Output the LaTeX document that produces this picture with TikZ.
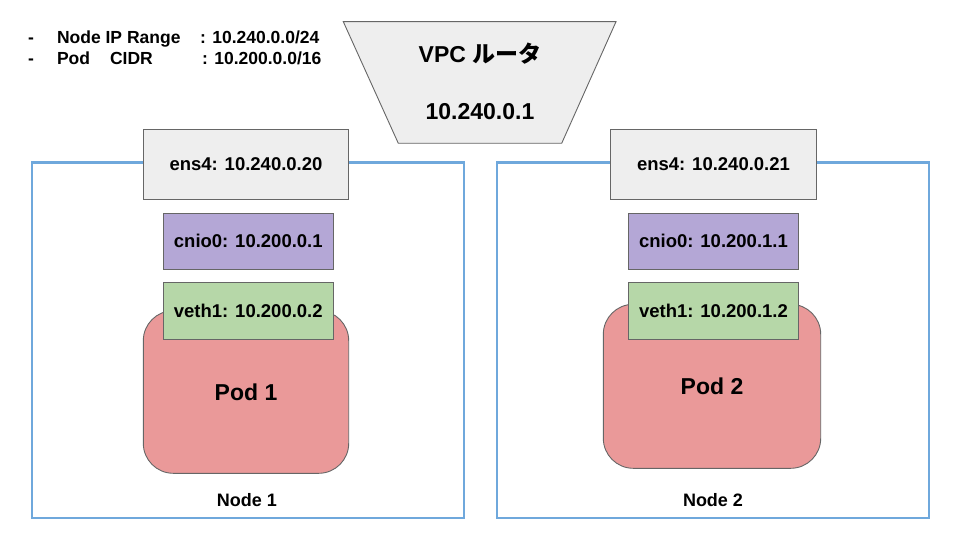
\documentclass[tikz,border=0pt]{standalone}
\usepackage{fontspec}
\setmainfont{Liberation Sans}
\newfontfamily\jpfont{Noto Sans CJK JP}
\definecolor{nodeblue}{HTML}{6FA8DC}
\definecolor{edgegray}{HTML}{666666}
\definecolor{ifgray}{HTML}{EEEEEE}
\definecolor{cnipurple}{HTML}{B4A7D6}
\definecolor{vethgreen}{HTML}{B6D7A8}
\definecolor{podred}{HTML}{EA9999}
\begin{document}
\begin{tikzpicture}[x=1pt,y=-1pt,
  every node/.style={inner sep=0pt, outer sep=0pt},
  hostbox/.style={draw=nodeblue, line width=2.8pt, rectangle, minimum width=432pt, minimum height=355.3pt},
  ifbox/.style={draw=edgegray, line width=0.9pt, fill=ifgray, rectangle, font=\fontsize{18.5}{22}\bfseries},
  cnibox/.style={draw=edgegray, line width=0.9pt, fill=cnipurple, rectangle, minimum width=170pt, minimum height=56pt, font=\fontsize{18.5}{22}\bfseries},
  vethbox/.style={draw=edgegray, line width=0.9pt, fill=vethgreen, rectangle, minimum width=170pt, minimum height=57pt, font=\fontsize{18.5}{22}\bfseries},
  podbox/.style={draw=edgegray, line width=0.9pt, fill=podred, rectangle, rounded corners=30pt, font=\fontsize{23}{27}\bfseries},
  hostlabel/.style={font=\fontsize{18}{21}\bfseries},
  legend/.style={anchor=base west, font=\fontsize{17.5}{21}\bfseries},
  vpctext/.style={font=\fontsize{23}{27}\bfseries}
]
\useasboundingbox (0,0) rectangle (960,540);

% legend
\node[legend] (d1) at (28,43.5) {-};
\node[legend] (l1) at (57,43.5) {Node IP Range};
\node[legend] (v1) at (200,43.5) {: 10.240.0.0/24};
\node[legend] (d2) at (28,65) {-};
\node[legend] (l2a) at (57,65) {Pod};
\node[legend] (l2b) at (110,65) {CIDR};
\node[legend] (v2) at (202,65) {: 10.200.0.0/16};

% VPC router
\coordinate (vtl) at (343.3,21.7);
\coordinate (vtr) at (616,21.7);
\coordinate (vbr) at (561.7,143.3);
\coordinate (vbl) at (398.3,143.3);
\draw[draw=edgegray, line width=0.9pt, fill=ifgray] (vtl) -- (vtr) -- (vbr) -- (vbl) -- cycle;
\node[vpctext] (vpcname) at (480,54) {VPC {\jpfont\bfseries ルータ}};
\node[vpctext] (vpcip) at (480,112) {10.240.0.1};

% Node 1
\node[hostbox] (host1) at (248,340.3) {};
\node[hostlabel] (host1lbl) at (247,500) {Node 1};
\node[ifbox, minimum width=205.4pt, minimum height=70pt] (ens1) at (246,164.3) {ens4: 10.240.0.20};
\node[cnibox] (cni1) at (248.3,241.3) {cnio0: 10.200.0.1};
\node[podbox, minimum width=205.4pt, minimum height=162.6pt] (pod1) at (246,392) {Pod 1};
\node[vethbox] (veth1a) at (248.3,310.8) {veth1: 10.200.0.2};

% Node 2
\node[hostbox] (host2) at (713,340.3) {};
\node[hostlabel] (host2lbl) at (713,500) {Node 2};
\node[ifbox, minimum width=206.4pt, minimum height=70pt] (ens2) at (713.5,164.3) {ens4: 10.240.0.21};
\node[cnibox] (cni2) at (713.5,241.3) {cnio0: 10.200.1.1};
\node[podbox, minimum width=217.4pt, minimum height=164pt] (pod2) at (712,386.3) {Pod 2};
\node[vethbox] (veth1b) at (713.5,310.8) {veth1: 10.200.1.2};
\end{tikzpicture}
\end{document}
